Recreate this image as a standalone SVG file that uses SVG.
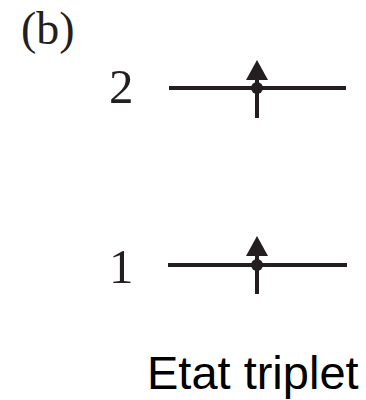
<svg xmlns="http://www.w3.org/2000/svg" width="366" height="400" viewBox="0 0 366 400">
<style>
.lvl{stroke:#231f20;stroke-width:4;fill:none}
.spin{stroke:#231f20;stroke-width:4;fill:none}
.head{fill:#231f20}
.serif{font-family:"Liberation Serif","Times New Roman",serif;fill:#231f20}
.sans{font-family:"Liberation Sans",Arial,sans-serif;fill:#000}
</style>
<text class="serif" x="21" y="44" font-size="46">(b)</text>
<g id="level2">
<text class="serif" x="109" y="103" font-size="49">2</text>
<line class="lvl" x1="169" y1="88" x2="346" y2="88"/>
<line class="spin" x1="257" y1="118" x2="257" y2="78"/>
<polygon class="head" points="257,60 268,80 246,80"/>
<circle class="head" cx="257" cy="88" r="6"/>
</g>
<g id="level1">
<text class="serif" x="109" y="283" font-size="49">1</text>
<line class="lvl" x1="168" y1="265" x2="347" y2="265"/>
<line class="spin" x1="257" y1="294" x2="257" y2="255"/>
<polygon class="head" points="257,236 268,256 246,256"/>
<circle class="head" cx="257" cy="265" r="6"/>
</g>
<text class="sans" x="147" y="389" font-size="47">Etat triplet</text>
</svg>
